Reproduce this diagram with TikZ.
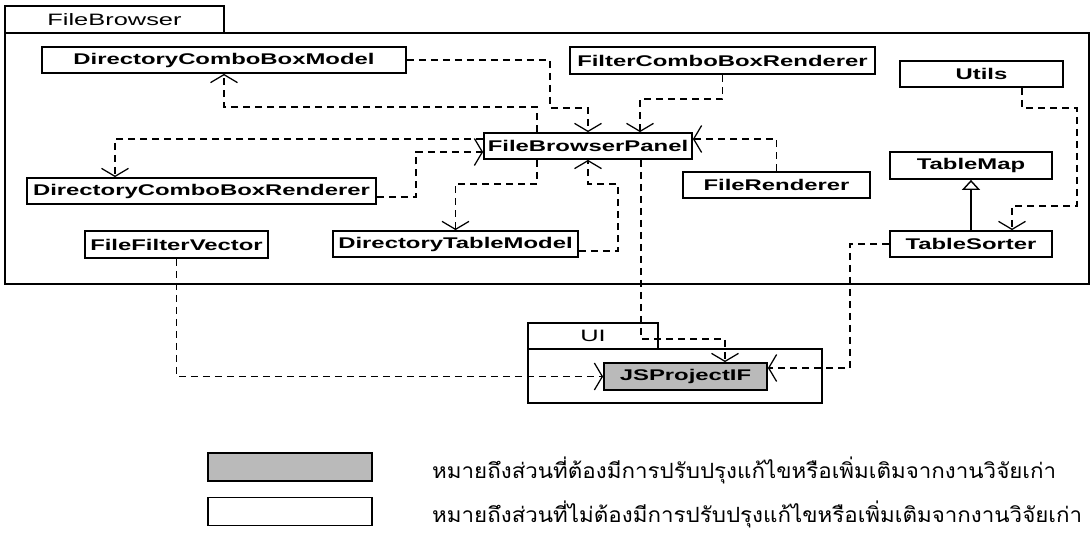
\documentclass[tikz,border=0pt]{standalone}
\usepackage{fontspec}
\setmainfont{Liberation Sans}
\newfontfamily\thaifont[Script=Thai]{Loma}
\usetikzlibrary{arrows.meta}

% the diagram's lettering is set wide
\newcommand{\wide}[1]{\scalebox{1.54}[1]{#1}}
\newlength\thaiw
\newcommand{\thaisize}{\thaifont\fontsize{21}{24}\selectfont}
\newcommand{\notechanged}{หมายถึงส่วนที่ต้องมีการปรับปรุงแก้ไขหรือเพิ่มเติมจากงานวิจัยเก่า}
\newcommand{\notesame}{หมายถึงส่วนที่ไม่ต้องมีการปรับปรุงแก้ไขหรือเพิ่มเติมจากงานวิจัยเก่า}

\begin{document}
% stretch factor for the legend text
\settowidth\thaiw{\thaisize\notechanged}%
\pgfmathsetmacro\thaisx{624/\thaiw}%
\begin{tikzpicture}[x=1pt,y=-1pt,
  cls/.style={draw, line width=1.8pt, fill=white, inner sep=0pt,
    font=\bfseries\fontsize{15.5}{18}\selectfont},
  changed/.style={cls, fill=black!27},
  pkg/.style={draw, line width=1.5pt, inner sep=0pt,
    font=\fontsize{16.5}{19}\selectfont},
  dep/.style={line width=1.25pt, dash pattern=on 7pt off 5pt,
    -{Straight Barb[length=8pt,width=27pt,line width=1.25pt]}},
  gen/.style={line width=1.4pt,
    -{Triangle[open,length=10pt,width=18pt,line width=1.4pt]}},
  note/.style={anchor=base west, inner sep=0pt, font=\thaisize},
]
\useasboundingbox (0,0) rectangle (1090,535);

% package FileBrowser
\node[pkg, minimum width=1084pt, minimum height=251pt] (fbbody) at (547,158.5) {};
\node[pkg, minimum width=219pt, minimum height=27pt] (fbtab) at (114.5,19.5) {\wide{FileBrowser}};

% package UI
\node[pkg, minimum width=294pt, minimum height=54pt] (uibody) at (675,376) {};
\node[pkg, minimum width=130pt, minimum height=26pt] (uitab) at (593,336) {\wide{UI}};

% classes
\node[cls, minimum width=364pt, minimum height=26pt] (dcbm) at (224,60) {\wide{DirectoryComboBoxModel}};
\node[cls, minimum width=305pt, minimum height=27pt] (fcbr) at (722.5,60.5) {\wide{FilterComboBoxRenderer}};
\node[cls, minimum width=163pt, minimum height=26pt] (utils) at (981.5,74) {\wide{Utils}};
\node[cls, minimum width=208pt, minimum height=26pt] (fbp) at (588,146) {\wide{FileBrowserPanel}};
\node[cls, minimum width=187pt, minimum height=26pt] (frend) at (776.5,185) {\wide{FileRenderer}};
\node[cls, minimum width=162pt, minimum height=27pt] (tmap) at (971,165.5) {\wide{TableMap}};
\node[cls, minimum width=162pt, minimum height=26pt] (tsort) at (971,244) {\wide{TableSorter}};
\node[cls, minimum width=349pt, minimum height=26pt] (dcbr) at (201.5,191) {\wide{DirectoryComboBoxRenderer}};
\node[cls, minimum width=183pt, minimum height=27pt] (ffv) at (176.5,244.5) {\wide{FileFilterVector}};
\node[cls, minimum width=245pt, minimum height=26pt] (dtm) at (455.5,244) {\wide{DirectoryTableModel}};
\node[changed, minimum width=163pt, minimum height=27pt] (jsp) at (685.5,376.5) {\wide{JSProjectIF}};

% dependencies
\draw[dep] (dcbm.east) -| (550,108) -| (fbp.north);
\draw[dep] ([xshift=-51pt]fbp.north) -- ++(0,-25) -| (dcbm.south);
\draw[dep] (fcbr.south) -- ++(0,24) -| ([xshift=52pt]fbp.north);
\draw[dep] ([yshift=7pt]fbp.west) -| ([xshift=-86.5pt]dcbr.north);
\draw[dep] ([yshift=-6pt]dcbr.east) -| (416,152) -- ([yshift=-6pt]fbp.west);
\draw[dep] ([xshift=-51pt]fbp.south) -- ++(0,24) -| (dtm.north);
\draw[dep] ([yshift=-7pt]dtm.east) -| (618,184) -| (fbp.south);
\draw[dep] (frend.north) |- ([yshift=7pt]fbp.east);
\draw[dep] ([xshift=53pt]fbp.south) -- ++(0,179) -| ([xshift=39.5pt]jsp.north);
\draw[dep] ([xshift=40.5pt]utils.south) -- ++(0,20) -| (1077,206) -| ([xshift=41pt]tsort.north);
\draw[dep] (tsort.west) -| (850,368) -- ([yshift=8.5pt]jsp.east);
\draw[dep] (ffv.south) |- (jsp.west);

% generalization
\draw[gen] (tsort.north) -- (tmap.south);

% legend
\node[changed, minimum width=164pt, minimum height=28pt] (lgchanged) at (290,467) {};
\node[cls, minimum width=164pt, minimum height=28pt] (lgsame) at (290,511.5) {};
\node[note] (lgtext1) at (432,478) {\scalebox{\thaisx}[1]{\notechanged}};
\node[note] (lgtext2) at (432,522) {\scalebox{\thaisx}[1]{\notesame}};
\end{tikzpicture}
\end{document}
